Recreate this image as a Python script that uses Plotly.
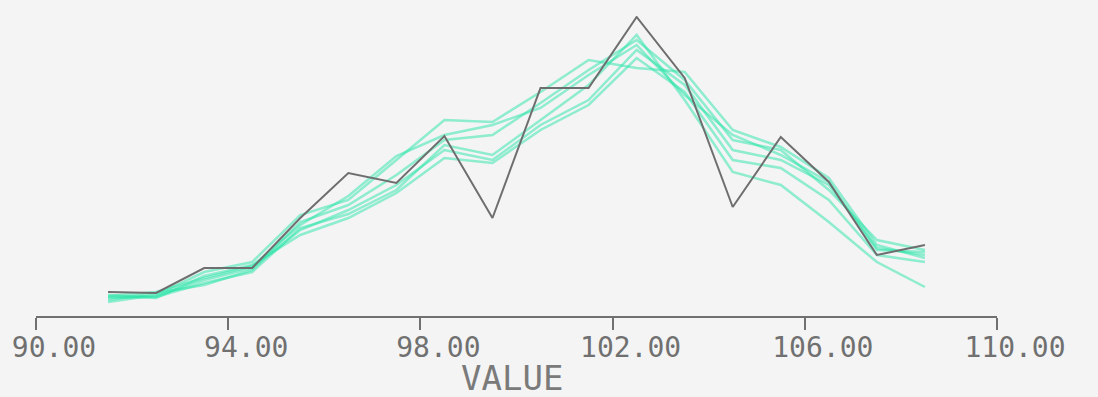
import plotly.graph_objects as go

# Bin centres of the histogram polygons
bin_centers = [91.5, 92.5, 93.5, 94.5, 95.5, 96.5, 97.5, 98.5, 99.5,
               100.5, 101.5, 102.5, 103.5, 104.5, 105.5, 106.5, 107.5, 108.5]

# Observed frequencies
observed = [12, 11.5, 24, 24, 49, 71.5, 66.5, 90, 49,
            114, 114, 149.5, 119, 54.5, 89.5, 67, 30.5, 35.5]

# Simulated replicate frequencies
sim_1 = [9.5, 10, 18, 24, 43, 53, 65.5, 83, 78, 95.5, 108, 133, 115.5, 83, 78, 65.5, 34, 30.5]
sim_2 = [8, 11.5, 15.5, 23, 47, 55.5, 70.5, 88, 90.5, 106.5, 123, 138, 118, 88, 83, 63, 38, 33]
sim_3 = [10.5, 9, 20, 25.5, 40.5, 49, 61.5, 79, 76.5, 93, 105.5, 129, 112, 78, 74, 58, 30.5, 27]
sim_4 = [7, 10.5, 22, 27, 50.5, 58, 78, 98, 97, 112, 128, 124, 122, 93, 84.5, 69, 35.5, 29]
sim_5 = [9, 9.5, 16.5, 22, 44, 51, 63, 85.5, 80.5, 98, 115.5, 140.5, 108, 72, 65.5, 47, 27, 14.5]
sim_6 = [10, 12, 19, 25, 45.5, 60, 80, 90.5, 95.5, 104, 120.5, 135.5, 110.5, 90.5, 80.5, 67, 33, 32]
simulated = [sim_1, sim_2, sim_3, sim_4, sim_5, sim_6]

tick_values = [90, 94, 98, 102, 106, 110]
tick_labels = ["90.00", "94.00", "98.00", "102.00", "106.00", "110.00"]
axis_title = "VALUE"

BG = "#f4f4f4"
AXIS = "#707070"

fig = go.Figure()
for s in simulated:
    fig.add_trace(go.Scatter(
        x=bin_centers, y=s, mode="lines",
        line=dict(color="rgba(40, 230, 168, 0.5)", width=2.5),
        hoverinfo="skip", showlegend=False,
    ))
fig.add_trace(go.Scatter(
    x=bin_centers, y=observed, mode="lines",
    line=dict(color="#6e6e6e", width=2),
    showlegend=False,
))

# Axis title placed below the tick labels
fig.add_annotation(
    text=axis_title, xref="paper", yref="paper",
    x=0.5, y=-0.205, xanchor="center", yanchor="middle",
    xshift=-5, showarrow=False,
    font=dict(size=34, color="#7a7a7a", family="DejaVu Sans Mono"),
)

fig.update_layout(
    width=1098, height=397,
    margin=dict(l=36, r=101, t=16, b=81),
    paper_bgcolor=BG, plot_bgcolor=BG,
    font=dict(family="DejaVu Sans Mono", color=AXIS),
    xaxis=dict(
        range=[90, 110], showgrid=False, zeroline=False, automargin=False,
        showline=True, linecolor=AXIS, linewidth=1.5,
        ticks="outside", ticklen=12, tickwidth=1.5, tickcolor=AXIS,
        tickvals=tick_values, ticktext=tick_labels,
        tickfont=dict(size=28, color=AXIS, family="DejaVu Sans Mono"),
        ticklabelshift=18, ticklabelstandoff=-6,
    ),
    yaxis=dict(range=[0, 150], visible=False, showgrid=False, zeroline=False,
               automargin=False),
)

fig.write_html("out.html")
